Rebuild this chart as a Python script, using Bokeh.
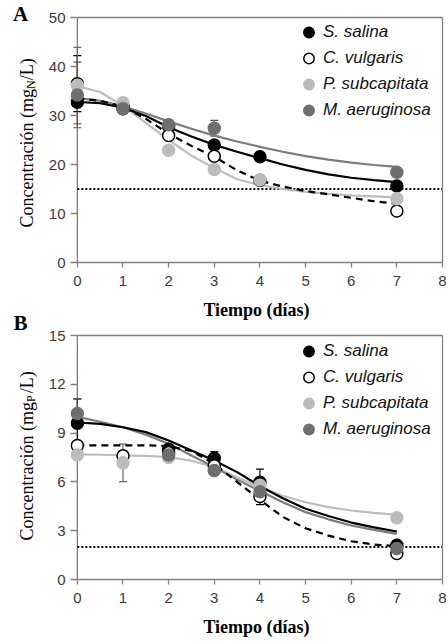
import numpy as np
from bokeh.plotting import figure
from bokeh.models import (Range1d, LinearAxis, FixedTicker, Legend, LegendItem,
                          Whisker, ColumnDataSource, TeeHead, Span)
from bokeh.layouts import column, row
from bokeh.embed import file_html
from bokeh.resources import INLINE
from bokeh.core.properties import value

# ---------------- data ----------------
especies = ["S. salina", "C. vulgaris", "P. subcapitata", "M. aeruginosa"]
dias = [0, 1, 2, 3, 4, 7]
dias_ajuste = [0, 0.5, 1, 1.5, 2, 2.5, 3, 3.5, 4, 4.5, 5, 5.5, 6, 6.5, 7]
x_ticks = [0, 1, 2, 3, 4, 5, 6, 7, 8]

# Panel A: nitrogen (mgN/L)
N_salina = [32.7, 31.4, 27.8, 24.0, 21.6, 15.6]
N_vulgaris = [36.5, 32.0, 25.9, 21.7, 16.8, 10.5]
N_subcap = [36.1, 32.6, 22.9, 19.0, 16.9, 13.0]
N_aerug = [34.2, 31.4, 28.1, 27.4, float("nan"), 18.4]
N_err_salina = [0, 0, 0, 0, 0, 0]
N_err_vulgaris = [5.7, 0, 0, 0, 0, 0]
N_err_subcap = [7.8, 0, 0, 0, 0, 0]
N_err_aerug = [6.7, 0, 0, 1.6, 0, 0]
N_fit_salina = [32.8, 32.5, 31.6, 29.9, 27.6, 25.7, 24.0, 22.6, 21.3, 20.0, 18.9, 18.0, 17.3, 16.8, 16.4]
N_fit_vulgaris = [33.5, 33.0, 31.8, 29.3, 26.3, 23.8, 21.6, 18.8, 16.7, 15.5, 14.6, 13.9, 13.2, 12.5, 12.0]
N_fit_subcap = [36.0, 34.8, 32.0, 28.5, 25.0, 21.8, 19.3, 17.0, 15.8, 15.0, 14.4, 14.0, 13.7, 13.5, 13.3]
N_fit_aerug = [33.6, 33.0, 31.9, 30.4, 28.8, 27.3, 25.9, 24.7, 23.6, 22.6, 21.7, 21.0, 20.4, 19.9, 19.5]
N_limite = 15
N_ticks = [0, 10, 20, 30, 40, 50]

# Panel B: phosphorus (mgP/L)
P_salina = [9.6, float("nan"), 8.0, 7.46, 5.98, 2.1]
P_vulgaris = [8.24, 7.6, 7.8, 7.0, 5.1, 1.6]
P_subcap = [7.66, 7.17, 7.5, 6.7, 5.8, 3.8]
P_aerug = [10.2, float("nan"), 7.66, 6.7, 5.4, 1.9]
P_err_salina = [1.5, 0, 0, 0.4, 0.8, 0]
P_err_vulgaris = [0, 0, 0, 0, 0.5, 0]
P_err_subcap = [0, 1.15, 0, 0, 0, 0]
P_err_aerug = [0.9, 0, 0, 0, 0, 0]
P_fit_salina = [9.65, 9.57, 9.36, 9.06, 8.55, 7.93, 7.32, 6.6, 5.75, 5.0, 4.35, 3.9, 3.5, 3.2, 2.95]
P_fit_vulgaris = [8.25, 8.25, 8.25, 8.25, 8.2, 7.9, 7.1, 6.0, 4.9, 3.85, 3.15, 2.7, 2.35, 2.15, 2.05]
P_fit_subcap = [7.69, 7.67, 7.63, 7.6, 7.52, 7.3, 6.9, 6.29, 5.65, 5.15, 4.75, 4.45, 4.24, 4.1, 3.98]
P_fit_aerug = [10.0, 9.7, 9.36, 8.9, 8.34, 7.62, 6.9, 6.14, 5.45, 4.75, 4.14, 3.7, 3.32, 3.05, 2.8]
P_limite = 2
P_ticks = [0, 3, 6, 9, 12, 15]

# ---------------- styles ----------------
estilos = {
    "S. salina": dict(fill="#000000", line="#000000", curve="#000000", dash="solid", err="#000000"),
    "C. vulgaris": dict(fill="#ffffff", line="#000000", curve="#000000", dash="7 5", err="#000000"),
    "P. subcapitata": dict(fill="#bcbcbc", line="#bcbcbc", curve="#bdbdbd", dash="solid", err="#6a6a6a"),
    "M. aeruginosa": dict(fill="#6f6f6f", line="#6f6f6f", curve="#7c7c7c", dash="solid", err="#555555"),
}
AXIS_COLOR = "#808080"
TICK_TEXT = "#3a3a3a"
SANS = "Liberation Sans"
SERIF = "Liberation Serif"

SIDE_W = 37          # narrow strip holding panel letter + y label
SIDE_LIFT = 20       # the strip is drawn 20 px lower than its slot: pull it up
BORDER_L = 33        # main figure left border (tick labels)
X_START, X_END = -0.15, 8


def side_strip(letter, sub, height, frame_bottom_px, letter_mid_px):
    """Narrow figure whose data units are pixels (y measured up from its bottom)."""
    s = figure(frame_width=SIDE_W, frame_height=height, title=None,
               min_border_left=0, min_border_right=0, min_border_top=0, min_border_bottom=0,
               x_range=Range1d(0, SIDE_W), y_range=Range1d(0, height),
               x_axis_type=None, y_axis_type=None,
               output_backend="svg", toolbar_location=None)
    s.margin = (-SIDE_LIFT, 0, 0, 0)
    s.outline_line_color = None
    s.grid.visible = False
    base_x = 26
    start_y = height - (frame_bottom_px - 32)
    w1 = 7.693 * 18
    w2 = 0.722 * 12
    s.text(x=[base_x], y=[start_y], text=["Concentración (mg"], angle=np.pi / 2,
           text_font=value(SERIF), text_font_size="18px",
           text_baseline="alphabetic", text_align="left", text_color="#000000")
    s.text(x=[base_x + 4], y=[start_y + w1], text=[sub], angle=np.pi / 2,
           text_font=value(SERIF), text_font_size="12px",
           text_baseline="alphabetic", text_align="left", text_color="#000000")
    s.text(x=[base_x], y=[start_y + w1 + w2], text=["/L)"], angle=np.pi / 2,
           text_font=value(SERIF), text_font_size="18px",
           text_baseline="alphabetic", text_align="left", text_color="#000000")
    s.text(x=[20], y=[height - letter_mid_px], text=[letter],
           text_font=value(SERIF), text_font_size="21px", text_font_style="bold",
           text_baseline="middle", text_align="center", text_color="#000000")
    return s


def panel(series, fits, errs, ymax, yticks, limite, frame_h, border_top, border_bottom,
          legend_bottom):
    p = figure(frame_width=372, frame_height=frame_h, title=None,
               min_border_left=BORDER_L, min_border_right=6, min_border_top=border_top,
               min_border_bottom=border_bottom,
               x_range=Range1d(X_START, X_END), y_range=Range1d(0, ymax),
               output_backend="svg", toolbar_location=None,
               background_fill_color="white", border_fill_color="white")
    p.outline_line_color = None
    p.grid.visible = False

    xa = p.xaxis[0]
    xa.ticker = FixedTicker(ticks=x_ticks)
    xa.bounds = (0, 8)
    ya = p.yaxis[0]
    ya.ticker = FixedTicker(ticks=yticks)
    for ax in (xa, ya):
        ax.axis_line_color = AXIS_COLOR
        ax.axis_line_width = 1.3
        ax.major_tick_line_color = AXIS_COLOR
        ax.major_tick_line_width = 1.3
        ax.minor_tick_line_color = None
        ax.major_label_text_font = SANS
        ax.major_label_text_font_size = "15px"
        ax.major_label_text_color = TICK_TEXT
    # y axis line is drawn at x = 0 (below), ticks reach it from the frame edge
    ya.axis_line_color = None
    ya.major_tick_out = 0
    ya.major_tick_in = 7
    ya.major_label_standoff = 5
    xa.major_tick_in = 0
    xa.major_tick_out = 5
    xa.major_label_standoff = 8
    xa.axis_label = "Tiempo (días)"
    xa.axis_label_text_font = SERIF
    xa.axis_label_text_font_style = "bold"
    xa.axis_label_text_font_size = "18px"
    xa.axis_label_text_color = "#000000"
    xa.axis_label_standoff = 11

    p.add_layout(Span(location=0, dimension="height", line_color=AXIS_COLOR,
                      line_width=1.3, level="underlay"))

    top = LinearAxis(ticker=FixedTicker(ticks=[]), bounds=(0, 8),
                     axis_line_color=AXIS_COLOR, axis_line_width=1.3,
                     major_tick_line_color=None, minor_tick_line_color=None,
                     major_label_text_font_size="0px")
    right = LinearAxis(ticker=FixedTicker(ticks=[]),
                       axis_line_color=AXIS_COLOR, axis_line_width=1.3,
                       major_tick_line_color=None, minor_tick_line_color=None,
                       major_label_text_font_size="0px")
    p.add_layout(top, "above")
    p.add_layout(right, "right")

    p.line([0, X_END], [limite, limite], line_color="#000000", line_width=2, line_dash="2 2")

    for name in ["P. subcapitata", "M. aeruginosa", "C. vulgaris", "S. salina"]:
        st = estilos[name]
        p.line(dias_ajuste, fits[name], line_color=st["curve"], line_width=2.2,
               line_dash=st["dash"])

    for name in especies:
        st = estilos[name]
        y = np.array(series[name], dtype=float)
        e = np.array(errs[name], dtype=float)
        mask = e > 0
        if mask.any():
            src = ColumnDataSource(dict(x=np.array(dias, dtype=float)[mask],
                                        up=(y + e)[mask], lo=(y - e)[mask]))
            w = Whisker(source=src, base="x", upper="up", lower="lo",
                        line_color=st["err"], line_width=1.2, level="underlay",
                        upper_head=TeeHead(size=8, line_color=st["err"], line_width=1.2),
                        lower_head=TeeHead(size=8, line_color=st["err"], line_width=1.2))
            p.add_layout(w)

    items = []
    for name in especies:
        st = estilos[name]
        r = p.scatter(dias, series[name], size=12, fill_color=st["fill"],
                      line_color=st["line"], line_width=1.5)
        items.append(LegendItem(label=name, renderers=[r]))

    leg = Legend(items=items, location=(224, legend_bottom),
                 label_text_font=SANS, label_text_font_style="italic",
                 label_text_font_size="17px", label_text_color="#111111",
                 glyph_width=29, glyph_height=26, label_height=26,
                 spacing=0, padding=0, margin=0, label_standoff=0,
                 border_line_color=None, background_fill_alpha=0)
    p.add_layout(leg)
    return p


pA = panel({"S. salina": N_salina, "C. vulgaris": N_vulgaris,
            "P. subcapitata": N_subcap, "M. aeruginosa": N_aerug},
           {"S. salina": N_fit_salina, "C. vulgaris": N_fit_vulgaris,
            "P. subcapitata": N_fit_subcap, "M. aeruginosa": N_fit_aerug},
           {"S. salina": N_err_salina, "C. vulgaris": N_err_vulgaris,
            "P. subcapitata": N_err_subcap, "M. aeruginosa": N_err_aerug},
           50, N_ticks, N_limite, 245, 17, 58, 139)
sA = side_strip("A", "N", 324, 262, 16.5)

pB = panel({"S. salina": P_salina, "C. vulgaris": P_vulgaris,
            "P. subcapitata": P_subcap, "M. aeruginosa": P_aerug},
           {"S. salina": P_fit_salina, "C. vulgaris": P_fit_vulgaris,
            "P. subcapitata": P_fit_subcap, "M. aeruginosa": P_fit_aerug},
           {"S. salina": P_err_salina, "C. vulgaris": P_err_vulgaris,
            "P. subcapitata": P_err_subcap, "M. aeruginosa": P_err_aerug},
           15, P_ticks, P_limite, 244, 13, 62, 137.4)
sB = side_strip("B", "P", 319, 257, 7)

layout = column(row(sA, pA, spacing=0), row(sB, pB, spacing=0), spacing=0)
open("out.html", "w").write(file_html(layout, INLINE))
